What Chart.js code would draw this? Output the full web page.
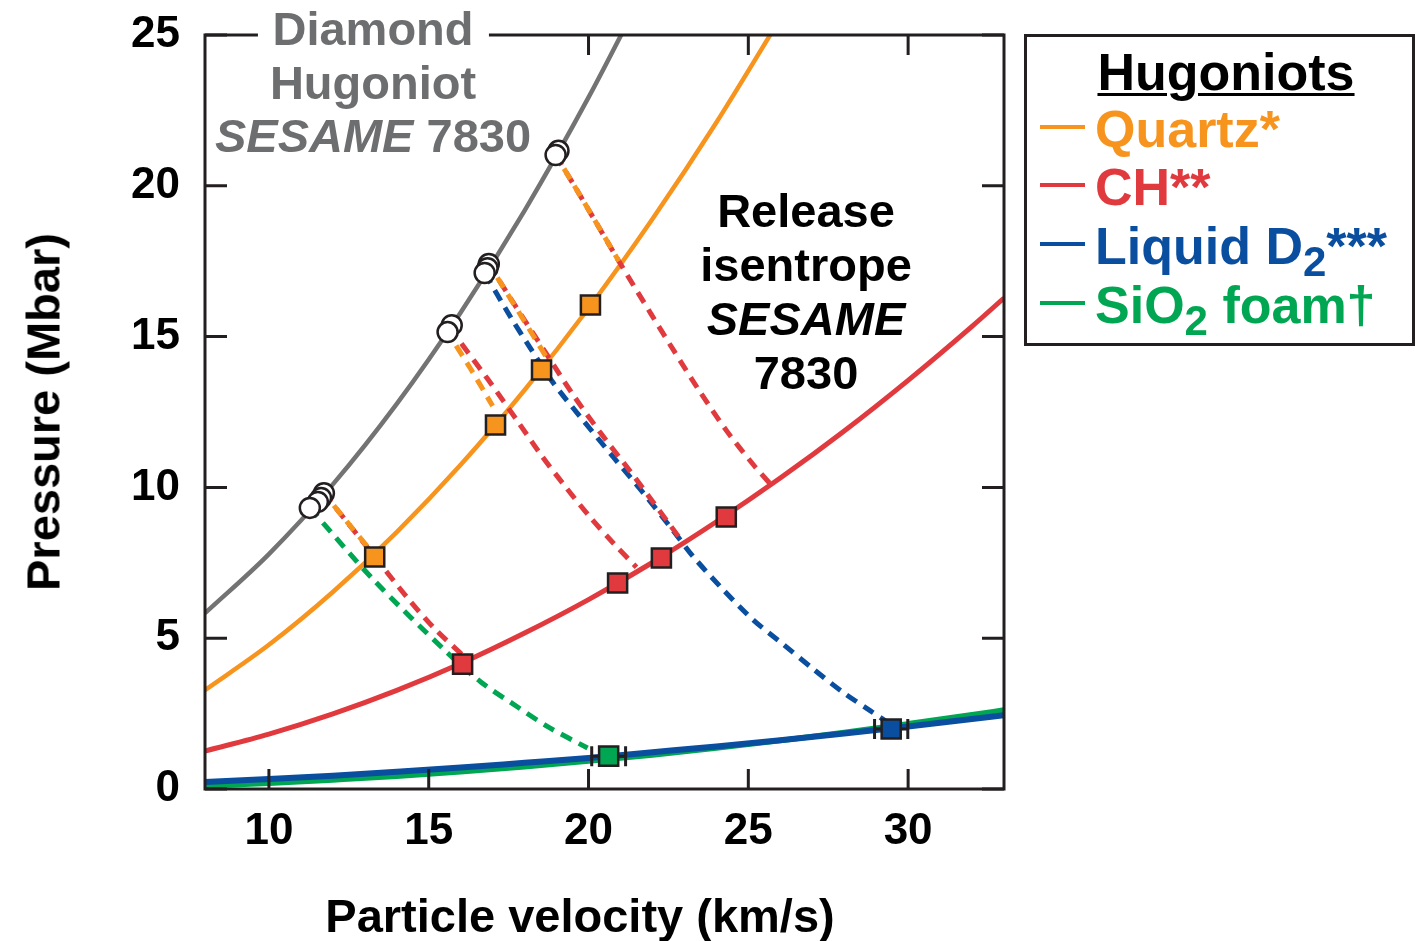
<!DOCTYPE html>
<html>
<head>
<meta charset="utf-8">
<title>Hugoniots and release isentropes</title>
<script src="https://cdn.jsdelivr.net/npm/chart.js@4.4.1/dist/chart.umd.min.js"></script>
<style>
  html, body { margin: 0; padding: 0; background: #fff; }
  #wrap { position: relative; width: 1420px; height: 941px; overflow: hidden;
          font-family: 'Liberation Sans', Arial, Helvetica, sans-serif; font-weight: bold; }
  #hugoniot-chart { position: absolute; left: 0; top: 0; }
  .txt { position: absolute; white-space: nowrap; }
  .axis-title { font-size: 47px; line-height: 47px; color: #000; }
  #x-title { left: 580px; top: 892px; transform: translateX(-50%); }
  #y-title { left: 43px; top: 412px; transform: translate(-50%, -50%) rotate(-90deg); }
  #diamond-note { left: 373px; top: 2px; transform: translateX(-50%); text-align: center;
                  font-size: 47px; line-height: 53.5px; color: #6d6e70; }
  #diamond-note .cover { background: #fff; padding: 0 15px; }
  #release-note { left: 806px; top: 184px; transform: translateX(-50%); text-align: center;
                  font-size: 47px; line-height: 54px; color: #000; }
  #legend-box { position: absolute; left: 1024px; top: 34px; width: 391px; height: 312px;
                box-sizing: border-box; border: 3px solid #231f20; }
  .leg { font-size: 52px; line-height: 58px; }
  #leg-title { left: 1226px; top: 43px; transform: translateX(-50%); color: #000;
               text-decoration: underline; text-decoration-thickness: 3px; text-underline-offset: 3px; }
  .sw { position: absolute; left: 1040px; width: 45px; height: 4px; }
  .sub { font-size: 42px; position: relative; top: 12px; }
</style>
</head>
<body>
<div id="wrap">
  <canvas id="hugoniot-chart" width="1420" height="941"></canvas>

  <div id="diamond-note" class="txt"><span class="cover">Diamond</span><br>Hugoniot<br><i>SESAME</i> 7830</div>
  <div id="release-note" class="txt">Release<br>isentrope<br><i>SESAME</i><br>7830</div>

  <div id="legend-box"></div>
  <div id="leg-title" class="txt leg">Hugoniots</div>
  <div class="sw" style="top:125px; background:#f7941d"></div>
  <div class="txt leg" style="left:1095px; top:100px; color:#f7941d">Quartz*</div>
  <div class="sw" style="top:183px; background:#e03a3e"></div>
  <div class="txt leg" style="left:1095px; top:158px; color:#e03a3e">CH**</div>
  <div class="sw" style="top:242px; background:#0a4e9f"></div>
  <div class="txt leg" style="left:1095px; top:217px; color:#0a4e9f">Liquid D<span class="sub">2</span>***</div>
  <div class="sw" style="top:301px; background:#00a651"></div>
  <div class="txt leg" style="left:1095px; top:276px; color:#00a651">SiO<span class="sub">2</span> foam†</div>

  <div id="x-title" class="txt axis-title">Particle velocity (km/s)</div>
  <div id="y-title" class="txt axis-title">Pressure (Mbar)</div>
</div>

<script>
// axis ticks
const xTicks = [10, 15, 20, 25, 30];
const yTicks = [0, 5, 10, 15, 20, 25];

// Hugoniot curves (particle velocity km/s, pressure Mbar)
const diamondU = [8, 10, 12, 14, 16, 18, 20, 22];
const diamondP = [5.83, 7.79, 10.10, 12.77, 15.80, 19.18, 22.93, 27.03];
const quartzU = [8, 10, 12, 14, 16, 18, 20, 22, 24, 26];
const quartzP = [3.28, 4.78, 6.53, 8.52, 10.75, 13.23, 15.94, 18.90, 22.10, 25.55];
const lowU = [8, 10, 12, 14, 16, 18, 20, 22, 24, 26, 28, 30, 32, 33];
const chP = [1.26, 1.82, 2.49, 3.27, 4.16, 5.17, 6.28, 7.51, 8.86, 10.31, 11.87, 13.55, 15.34, 16.28];
const d2P = [0.23, 0.33, 0.44, 0.57, 0.71, 0.87, 1.03, 1.22, 1.41, 1.62, 1.84, 2.07, 2.32, 2.45];
const foamP = [0.10, 0.19, 0.30, 0.42, 0.57, 0.74, 0.93, 1.13, 1.36, 1.61, 1.87, 2.16, 2.46, 2.62];

// diamond shock states (open circles)
const shotU = [11.72, 11.63, 11.53, 11.28, 15.72, 15.59, 16.88, 16.84, 16.75, 19.06, 18.97];
const shotP = [9.81, 9.65, 9.52, 9.32, 15.38, 15.15, 17.41, 17.27, 17.11, 21.16, 21.02];

// measured states in the witness materials (squares)
const quartzShotU = [13.31, 17.09, 18.53, 20.06];
const quartzShotP = [7.69, 12.07, 13.89, 16.05];
const chShotU = [16.06, 20.91, 22.28, 24.31];
const chShotP = [4.14, 6.83, 7.66, 9.02];
const foamShotU = [20.63];
const foamShotP = [1.09];
const foamShotErr = [0.53];
const d2ShotU = [29.47];
const d2ShotP = [1.99];
const d2ShotErr = [0.52];

// release isentropes from each diamond state
const rel1QuartzU = [11.72, 12.45, 13.15];
const rel1QuartzP = [9.81, 8.85, 7.95];
const rel1ChU = [11.72, 13.2, 14.34, 15.2, 16.1];
const rel1ChP = [9.81, 7.85, 6.33, 5.30, 4.40];
const rel1FoamU = [11.28, 13.28, 15.59, 16.63, 17.78, 18.75, 19.97];
const rel1FoamP = [9.32, 6.93, 4.51, 3.55, 2.72, 2.05, 1.36];

const rel2QuartzU = [15.59, 16.3, 17.0];
const rel2QuartzP = [15.15, 13.95, 12.70];
const rel2ChU = [15.65, 16.84, 17.81, 18.5, 19.22, 20.06, 20.78, 21.5];
const rel2ChP = [15.30, 13.60, 12.15, 11.10, 10.10, 9.00, 8.15, 7.35];

const rel3QuartzU = [16.88, 17.25, 17.97, 18.75];
const rel3QuartzP = [17.41, 16.78, 15.55, 14.20];
const rel3ChU = [16.88, 17.6, 18.7, 19.53, 20.38, 21.22, 22.03, 22.9];
const rel3ChP = [17.41, 16.20, 14.40, 13.05, 11.80, 10.65, 9.50, 8.25];
const rel3D2U = [16.75, 17.56, 18.19, 18.9, 19.75, 20.78, 21.72, 22.66, 23.28, 24.22, 25.16, 26.09, 27.03, 27.97, 28.81, 29.3];
const rel3D2P = [17.11, 15.65, 14.60, 13.46, 12.33, 11.00, 9.81, 8.55, 7.70, 6.60, 5.60, 4.80, 3.98, 3.20, 2.60, 2.25];

const rel4QuartzU = [18.97, 19.5, 20.2, 20.95];
const rel4QuartzP = [21.02, 20.10, 18.85, 17.50];
const rel4ChU = [18.97, 19.5, 20.2, 20.95, 21.94, 22.66, 23.5, 24.34, 25.16, 25.7];
const rel4ChP = [21.02, 20.10, 18.85, 17.50, 15.78, 14.55, 13.15, 11.85, 10.75, 10.10];

const FONT = "'Liberation Sans', Arial, Helvetica, sans-serif";
const GRAY = '#737373', ORANGE = '#f7941d', RED = '#e03a3e', BLUE = '#0a4e9f', GREEN = '#00a651', INK = '#231f20';

function pts(us, ps) {
    return us.map((u, i) => ({ x: u, y: ps[i] }));
}

function curve(label, us, ps, color, width, order) {
    return {
        label: label, data: pts(us, ps), showLine: true,
        borderColor: color, borderWidth: width,
        cubicInterpolationMode: 'monotone',
        pointRadius: 0, pointHoverRadius: 0, order: order
    };
}

function release(us, ps, color, offset) {
    return {
        data: pts(us, ps), showLine: true,
        borderColor: color, borderWidth: 5,
        borderDash: [12, 8], borderDashOffset: offset || 0,
        tension: 0.3,
        pointRadius: 0, pointHoverRadius: 0, order: 30
    };
}

function squares(us, ps, color) {
    return {
        data: pts(us, ps), showLine: false,
        pointStyle: 'rect', pointRadius: 13.5, pointHoverRadius: 13.5,
        backgroundColor: color, borderColor: INK, borderWidth: 2.5,
        order: 5
    };
}

// horizontal error bars on the foam and D2 points, drawn right after the D2 curve
const errorBars = {
    id: 'errorBars',
    afterDatasetDraw(chart, args) {
        if (!chart.data.datasets[args.index].withErrorBars) return;
        const { ctx, scales: { x, y } } = chart;
        const bars = [
            [foamShotU[0], foamShotP[0], foamShotErr[0]],
            [d2ShotU[0], d2ShotP[0], d2ShotErr[0]]
        ];
        ctx.save();
        ctx.strokeStyle = INK;
        ctx.lineWidth = 3;
        ctx.beginPath();
        bars.forEach(([u, p, e]) => {
            const x0 = x.getPixelForValue(u - e), x1 = x.getPixelForValue(u + e);
            const py = y.getPixelForValue(p);
            ctx.moveTo(x0, py); ctx.lineTo(x1, py);
            ctx.moveTo(x0, py - 10); ctx.lineTo(x0, py + 10);
            ctx.moveTo(x1, py - 10); ctx.lineTo(x1, py + 10);
        });
        ctx.stroke();
        ctx.restore();
    }
};

// box frame with inward ticks on all four sides
const frameTicks = {
    id: 'frameTicks',
    afterDatasetsDraw(chart) {
        const { ctx, chartArea: a, scales: { x, y } } = chart;
        ctx.save();
        ctx.strokeStyle = INK;
        ctx.lineWidth = 3;
        ctx.beginPath();
        xTicks.forEach(v => {
            const px = x.getPixelForValue(v);
            ctx.moveTo(px, a.bottom); ctx.lineTo(px, a.bottom - 20);
            ctx.moveTo(px, a.top); ctx.lineTo(px, a.top + 20);
        });
        yTicks.forEach(v => {
            const py = y.getPixelForValue(v);
            ctx.moveTo(a.left, py); ctx.lineTo(a.left + 22, py);
            ctx.moveTo(a.right, py); ctx.lineTo(a.right - 22, py);
        });
        ctx.stroke();
        ctx.strokeRect(a.left, a.top, a.right - a.left, a.bottom - a.top);
        ctx.restore();
    }
};

const d2Curve = curve('Liquid D2', lowU, d2P, BLUE, 6, 40);
d2Curve.withErrorBars = true;

const ctx = document.getElementById('hugoniot-chart').getContext('2d');
const chart = new Chart(ctx, {
    type: 'scatter',
    data: {
        datasets: [
            curve('Diamond', diamondU, diamondP, GRAY, 4.5, 44),
            curve('Quartz', quartzU, quartzP, ORANGE, 4.5, 43),
            curve('CH', lowU, chP, RED, 5, 42),
            curve('SiO2 foam', lowU, foamP, GREEN, 5.5, 41),
            d2Curve,

            // orange segments first so they sit over the red ones they share
            release(rel1QuartzU, rel1QuartzP, ORANGE, 4),
            release(rel1ChU, rel1ChP, RED),
            release(rel1FoamU, rel1FoamP, GREEN),
            release(rel2QuartzU, rel2QuartzP, ORANGE, 4),
            release(rel2ChU, rel2ChP, RED),
            release(rel3QuartzU, rel3QuartzP, ORANGE, 4),
            release(rel3ChU, rel3ChP, RED),
            release(rel3D2U, rel3D2P, BLUE),
            release(rel4QuartzU, rel4QuartzP, ORANGE, 4),
            release(rel4ChU, rel4ChP, RED),

            {
                data: pts(shotU, shotP), showLine: false,
                pointStyle: 'circle', pointRadius: 10, pointHoverRadius: 10,
                backgroundColor: '#fff', borderColor: INK, borderWidth: 2.5,
                order: 10
            },
            squares(quartzShotU, quartzShotP, ORANGE),
            squares(chShotU, chShotP, RED),
            squares(foamShotU, foamShotP, GREEN),
            squares(d2ShotU, d2ShotP, BLUE)
        ]
    },
    options: {
        responsive: false,
        animation: false,
        devicePixelRatio: 1,
        layout: { padding: { left: 0, top: 35, right: 416, bottom: 0 } },
        plugins: { legend: { display: false }, tooltip: { enabled: false } },
        events: [],
        scales: {
            x: {
                type: 'linear', min: 8, max: 33,
                afterBuildTicks: s => { s.ticks = xTicks.map(v => ({ value: v })); },
                afterFit: s => { s.height = 152; s.paddingLeft = 0; s.paddingRight = 0; },
                grid: { display: false, drawTicks: false },
                border: { display: false },
                ticks: {
                    color: '#000', padding: 16, maxRotation: 0, autoSkip: false,
                    font: { family: FONT, size: 44, weight: 'bold' }
                }
            },
            y: {
                type: 'linear', min: 0, max: 25,
                afterBuildTicks: s => { s.ticks = yTicks.map(v => ({ value: v })); },
                afterFit: s => { s.width = 205; s.paddingTop = 0; s.paddingBottom = 0; },
                grid: { display: false, drawTicks: false },
                border: { display: false },
                ticks: {
                    color: '#000', padding: 25,
                    font: { family: FONT, size: 44, weight: 'bold' }
                }
            }
        }
    },
    plugins: [errorBars, frameTicks]
});
</script>
</body>
</html>
